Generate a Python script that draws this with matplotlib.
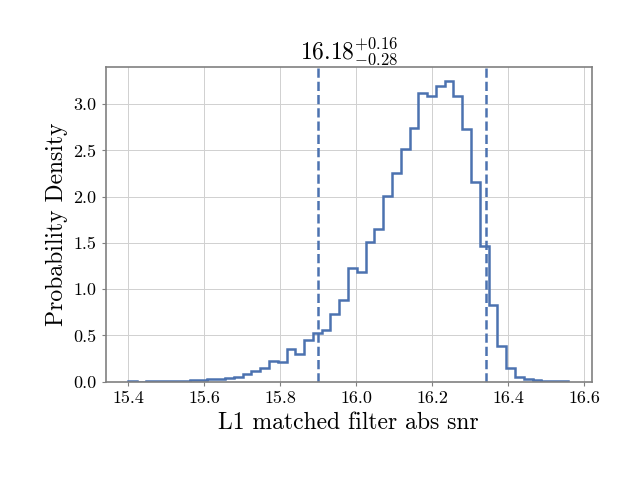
import matplotlib
matplotlib.use('agg')
import matplotlib.pyplot as plt
import numpy as np

plt.rcParams['font.family'] = 'serif'
plt.rcParams['font.serif'] = ['cmr10', 'DejaVu Serif']
plt.rcParams['mathtext.fontset'] = 'cm'
plt.rcParams['axes.formatter.use_mathtext'] = True

# histogram densities, 50 bins from 15.40 to 16.556
density = [0.01, 0.0, 0.01, 0.01, 0.01, 0.01, 0.01, 0.02, 0.02, 0.03,
           0.03, 0.035, 0.05, 0.08, 0.11, 0.15, 0.22, 0.21, 0.35, 0.30,
           0.45, 0.53, 0.56, 0.73, 0.88, 1.23, 1.19, 1.51, 1.65, 2.01,
           2.26, 2.52, 2.74, 3.12, 3.09, 3.20, 3.25, 3.09, 2.73, 2.16,
           1.47, 0.83, 0.39, 0.15, 0.05, 0.03, 0.02, 0.01, 0.01, 0.01]
lo, hi = 15.40, 16.556
bounds = [15.90, 16.34]
title = r'$16.18^{+0.16}_{-0.28}$'

edges = np.linspace(lo, hi, len(density) + 1)

fig, ax = plt.subplots(figsize=(6.4, 4.8))
ax.grid(True, color='#d0d0d0', linewidth=0.7)
ax.set_axisbelow(True)
ax.stairs(density, edges, color='#4c72b0', linewidth=1.8)
for b in bounds:
    ax.axvline(b, color='#4c72b0', linestyle='--', linewidth=1.8)
ax.set_xlim(15.34, 16.62)
ax.set_ylim(0, 3.4)
ax.set_xticks([15.4, 15.6, 15.8, 16.0, 16.2, 16.4, 16.6])
ax.set_yticks(np.arange(0, 3.01, 0.5))
ax.xaxis.set_major_formatter(matplotlib.ticker.FormatStrFormatter('%.1f'))
ax.yaxis.set_major_formatter(matplotlib.ticker.FormatStrFormatter('%.1f'))
for s in ax.spines.values():
    s.set_color('#808080')
    s.set_linewidth(1.2)
ax.tick_params(labelsize=13, length=3, color='#808080')
ax.set_xlabel('L1 matched filter abs snr', fontsize=17)
ax.set_ylabel('Probability Density', fontsize=17)
ax.set_title(title, fontsize=17)
fig.subplots_adjust(left=0.165, right=0.925, top=0.86, bottom=0.205)
fig.savefig('out.png', dpi=100)
